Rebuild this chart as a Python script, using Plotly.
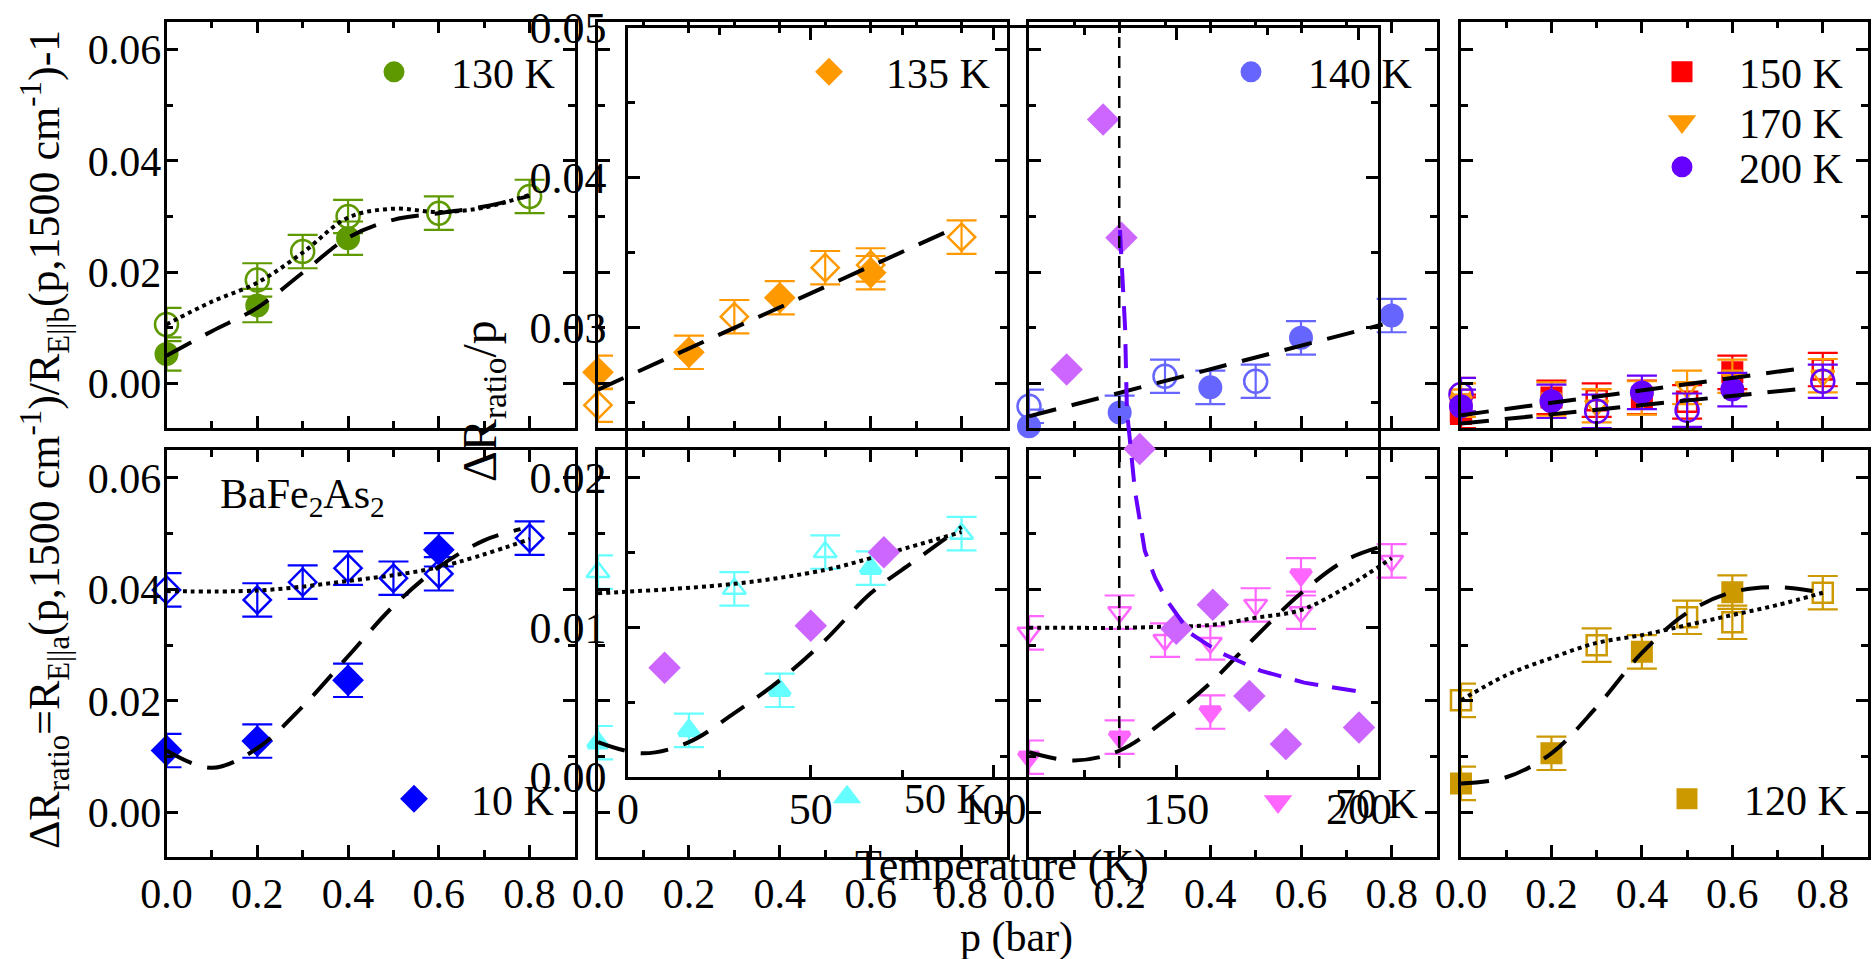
import plotly.graph_objects as go

W, H = 1875, 959
FONT = "Liberation Serif"

# ---------------- data ----------------
ERR = 0.003  # symmetric error bar of every pressure point

# 130 K (top, panel 1)
p130_f = [0.0, 0.2, 0.4]
v130_f = [0.0053, 0.0140, 0.0261]
p130_o = [0.0, 0.2, 0.3, 0.4, 0.6, 0.8]
v130_o = [0.0106, 0.0186, 0.0237, 0.0300, 0.0306, 0.0336]
p130_fit = [0.0, 0.1, 0.2, 0.3, 0.4, 0.5, 0.6, 0.7, 0.8]
v130_dash = [0.0050, 0.0094, 0.0136, 0.0199, 0.0262, 0.0294, 0.0306, 0.0318, 0.0337]
v130_dot = [0.0106, 0.0147, 0.0181, 0.0235, 0.0298, 0.0314, 0.0308, 0.0316, 0.0339]

# 135 K (top, panel 2)
p135_f = [0.0, 0.2, 0.4, 0.6]
v135_f = [0.0020, 0.0056, 0.0154, 0.0199]
p135_o = [0.0, 0.3, 0.5, 0.6, 0.8]
v135_o = [-0.0039, 0.0120, 0.0208, 0.0213, 0.0263]
p135_fit = [0.0, 0.79]
v135_dash = [-0.0011, 0.0281]

# 140 K (top, panel 3)
p140_f = [0.0, 0.2, 0.4, 0.6, 0.8]
v140_f = [-0.0077, -0.0052, -0.0007, 0.0082, 0.0122]
p140_o = [0.0, 0.3, 0.5]
v140_o = [-0.0041, 0.0013, 0.0004]
p140_fit = [0.0, 0.78]
v140_dash = [-0.0059, 0.0106]

# 150 K / 170 K / 200 K (top, panel 4)
p_hi_f = [0.0, 0.2, 0.4, 0.6]
p_hi_o = [0.0, 0.3, 0.5, 0.8]
v150_f = [-0.0055, -0.0025, -0.0025, 0.0020]
v150_o = [-0.0050, -0.0030, -0.0033, 0.0025]
v170_f = [-0.0030, -0.0028, -0.0026, 0.0013]
v170_o = [-0.0020, -0.0040, -0.0007, 0.0014]
v200_f = [-0.0041, -0.0032, -0.0016, -0.0011]
v200_o = [-0.0020, -0.0050, -0.0048, 0.0004]
p_hi_fitA = [0.0, 0.77]
v_hi_fitA = [-0.0057, 0.0029]
p_hi_fitB = [0.0, 0.76]
v_hi_fitB = [-0.0072, -0.0009]

# 10 K (bottom, panel 5)
p10_f = [0.0, 0.2, 0.4, 0.6]
v10_f = [0.0111, 0.0128, 0.0237, 0.0471]
p10_o = [0.0, 0.2, 0.3, 0.4, 0.5, 0.6, 0.8]
v10_o = [0.0399, 0.0381, 0.0413, 0.0438, 0.0420, 0.0428, 0.0492]
p10_fit = [0.0, 0.1, 0.2, 0.3, 0.4, 0.5, 0.6, 0.7, 0.78]
v10_dash = [0.0111, 0.0080, 0.0115, 0.0190, 0.0280, 0.0370, 0.0440, 0.0488, 0.0508]
p10_dotfit = [0.0, 0.2, 0.4, 0.6, 0.8]
v10_dot = [0.0397, 0.0398, 0.0415, 0.0440, 0.0490]

# 50 K (bottom, panel 6)
p50_f = [0.0, 0.2, 0.4, 0.6]
v50_f = [0.0125, 0.0147, 0.0219, 0.0438]
p50_o = [0.0, 0.3, 0.5, 0.8]
v50_o = [0.0431, 0.0401, 0.0467, 0.0500]
p50_fit = [0.0, 0.1, 0.2, 0.3, 0.4, 0.5, 0.6, 0.7, 0.8]
v50_dash = [0.0126, 0.0106, 0.0126, 0.0178, 0.0237, 0.0309, 0.0393, 0.0453, 0.0512]
p50_dotfit = [0.0, 0.3, 0.5, 0.6, 0.8]
v50_dot = [0.0393, 0.0410, 0.0435, 0.0456, 0.0503]

# 70 K (bottom, panel 7)
p70_f = [0.0, 0.2, 0.4, 0.6]
v70_f = [0.0099, 0.0135, 0.0180, 0.0426]
p70_o = [0.0, 0.2, 0.3, 0.4, 0.5, 0.6, 0.8]
v70_o = [0.0322, 0.0359, 0.0309, 0.0304, 0.0372, 0.0359, 0.0451]
p70_fit = [0.0, 0.1, 0.2, 0.3, 0.4, 0.5, 0.6, 0.7, 0.8]
v70_dash = [0.0108, 0.0093, 0.0111, 0.0165, 0.0232, 0.0315, 0.0393, 0.0453, 0.0482]
v70_dot = [0.0331, 0.0331, 0.0331, 0.0333, 0.0336, 0.0349, 0.0363, 0.0404, 0.0456]

# 120 K (bottom, panel 8)
p120_f = [0.0, 0.2, 0.4, 0.6]
v120_f = [0.0052, 0.0106, 0.0288, 0.0395]
p120_o = [0.0, 0.3, 0.5, 0.6, 0.8]
v120_o = [0.0201, 0.0300, 0.0350, 0.0341, 0.0394]
p120_fit = [0.0, 0.1, 0.2, 0.3, 0.4, 0.5, 0.6, 0.7, 0.8]
v120_dash = [0.0052, 0.0063, 0.0106, 0.0189, 0.0286, 0.0358, 0.0395, 0.0404, 0.0394]
v120_dot = [0.0201, 0.0246, 0.0277, 0.0304, 0.0318, 0.0336, 0.0354, 0.0372, 0.0394]

# inset: slope dR/p versus temperature
T_slope = [10, 50, 70, 120, 130, 135, 140, 150, 160, 170, 180, 200]
v_slope = [0.0073, 0.0101, 0.0150, 0.0272, 0.0439, 0.0360, 0.0219,
           0.0099, 0.0115, 0.0054, 0.0022, 0.0033]
T_curve = [134.6, 136.0, 136.5, 137.3, 138.7, 141.4, 144.2, 147.4, 153.8,
           162.0, 173.0, 185.0, 200.0]
v_curve = [0.0365, 0.0300, 0.0245, 0.0225, 0.0191, 0.0151, 0.0133, 0.0118,
           0.0096, 0.0083, 0.0071, 0.0063, 0.0057]
T_mark = [134.4, 134.4]
v_mark = [0.0006, 0.0494]

# colours
C130, C135, C140 = "#5f9900", "#ff9900", "#6666ff"
C150, C170, C200 = "#ff0000", "#ff9900", "#6600ff"
C10, C50, C70, C120 = "#0000ff", "#66ffff", "#ff66ff", "#cc9900"
C_SLOPE, C_CURVE = "#cc66ff", "#6600ff"

# ---------------- layout geometry (pixels) ----------------
X_DOM = [(166.5, 575.0), (598.0, 1007.0), (1029.0, 1437.0), (1461.0, 1868.0)]
Y_ROW = [(21.7, 428.0), (450.0, 857.0)]
INSET_X = (628.0, 1378.0)
INSET_Y = (28.0, 777.0)

def xd(a, b):
    return [a / W, b / W]

def yd(top, bot):
    return [1 - bot / H, 1 - top / H]

fig = go.Figure()

FILLED_SIZE = {"circle": 19, "diamond": 19, "square": 17, "triangle-up": 17, "triangle-down": 17}
OPEN_SIZE = {"circle": 23, "diamond": 21, "square": 20, "triangle-up": 20, "triangle-down": 20}

def ax(i):
    return ("x" if i == 1 else f"x{i}"), ("y" if i == 1 else f"y{i}")

def add_points(panel, x, y, symbol, color, filled, name=None, legend=None):
    xa, ya = ax(panel)
    if filled:
        marker = dict(symbol=symbol, size=FILLED_SIZE[symbol], color=color,
                      line=dict(color=color, width=5))
    else:
        marker = dict(symbol=symbol + "-open", size=OPEN_SIZE[symbol], color=color,
                      line=dict(color=color, width=2.5))
    fig.add_trace(go.Scatter(
        x=x, y=y, mode="markers", marker=marker, xaxis=xa, yaxis=ya,
        error_y=dict(type="constant", value=ERR, color=color, thickness=2.2, width=15),
        cliponaxis=False, name=name or "", showlegend=bool(name),
        legend=legend if legend else "legend"))

def add_fit(panel, x, y, style, color="black", width=4, shape="spline"):
    xa, ya = ax(panel)
    dash = {"dash": "28px,16px", "dot": "dot"}.get(style, style)
    fig.add_trace(go.Scatter(
        x=x, y=y, mode="lines", line=dict(color=color, width=width, dash=dash, shape=shape),
        xaxis=xa, yaxis=ya, showlegend=False, hoverinfo="skip"))

# panel 1: 130 K
add_points(1, p130_o, v130_o, "circle", C130, False)
add_points(1, p130_f, v130_f, "circle", C130, True, "130 K", "legend")
add_fit(1, p130_fit, v130_dash, "dash")
add_fit(1, p130_fit, v130_dot, "dot")
# panel 2: 135 K
add_points(2, p135_o, v135_o, "diamond", C135, False)
add_points(2, p135_f, v135_f, "diamond", C135, True, "135 K", "legend2")
add_fit(2, p135_fit, v135_dash, "dash", shape="linear")
# panel 3: 140 K
add_points(3, p140_o, v140_o, "circle", C140, False)
add_points(3, p140_f, v140_f, "circle", C140, True, "140 K", "legend3")
add_fit(3, p140_fit, v140_dash, "dash", shape="linear")
# panel 4: 150/170/200 K
add_points(4, p_hi_o, v150_o, "square", C150, False)
add_points(4, p_hi_o, v170_o, "triangle-down", C170, False)
add_points(4, p_hi_o, v200_o, "circle", C200, False)
add_points(4, p_hi_f, v150_f, "square", C150, True, "150 K", "legend4")
add_points(4, p_hi_f, v170_f, "triangle-down", C170, True, "170 K", "legend5")
add_points(4, p_hi_f, v200_f, "circle", C200, True, "200 K", "legend6")
add_fit(4, p_hi_fitA, v_hi_fitA, "dash", shape="linear")
add_fit(4, p_hi_fitB, v_hi_fitB, "dash", shape="linear")
# panel 5: 10 K
add_points(5, p10_o, v10_o, "diamond", C10, False)
add_points(5, p10_f, v10_f, "diamond", C10, True, "10 K", "legend7")
add_fit(5, p10_fit, v10_dash, "dash")
add_fit(5, p10_dotfit, v10_dot, "dot")
# panel 6: 50 K
add_points(6, p50_o, v50_o, "triangle-up", C50, False)
add_points(6, p50_f, v50_f, "triangle-up", C50, True, "50 K", "legend8")
add_fit(6, p50_fit, v50_dash, "dash")
add_fit(6, p50_dotfit, v50_dot, "dot")
# panel 7: 70 K
add_points(7, p70_o, v70_o, "triangle-down", C70, False)
add_points(7, p70_f, v70_f, "triangle-down", C70, True, "70 K", "legend9")
add_fit(7, p70_fit, v70_dash, "dash")
add_fit(7, p70_fit, v70_dot, "dot")
# panel 8: 120 K
add_points(8, p120_o, v120_o, "square", C120, False)
add_points(8, p120_f, v120_f, "square", C120, True, "120 K", "legend10")
add_fit(8, p120_fit, v120_dash, "dash")
add_fit(8, p120_fit, v120_dot, "dot")

# inset
fig.add_trace(go.Scatter(x=T_slope, y=v_slope, mode="markers", xaxis="x9", yaxis="y9",
                         marker=dict(symbol="diamond", size=25, color=C_SLOPE),
                         cliponaxis=False, showlegend=False))
fig.add_trace(go.Scatter(x=T_curve, y=v_curve, mode="lines", xaxis="x9", yaxis="y9",
                         line=dict(color=C_CURVE, width=4, dash="24px,14px"),
                         showlegend=False))
fig.add_trace(go.Scatter(x=T_mark, y=v_mark, mode="lines", xaxis="x9", yaxis="y9",
                         line=dict(color="black", width=2.5, dash="12px,8px"),
                         showlegend=False))

# ---------------- axes ----------------
tickfont = dict(family=FONT, size=42, color="black")
common = dict(showline=True, linecolor="black", linewidth=2.5, mirror="ticks",
              ticks="inside", ticklen=12, tickwidth=2.5, tickcolor="black",
              showgrid=False, zeroline=False, tickfont=tickfont, automargin=False)
layout_axes = {}
for i in range(1, 9):
    row = 0 if i <= 4 else 1
    col = (i - 1) % 4
    xname = "xaxis" if i == 1 else f"xaxis{i}"
    yname = "yaxis" if i == 1 else f"yaxis{i}"
    xa, ya = ax(i)
    layout_axes[xname] = dict(common, domain=xd(*X_DOM[col]), anchor=ya, range=[0, 0.9],
                              tick0=0, dtick=0.2, tickformat=".1f",
                              showticklabels=(row == 1), ticklabelstandoff=-2,
                              minor=dict(dtick=0.1, ticks="inside", ticklen=7,
                                         tickwidth=2.5, tickcolor="black"))
    layout_axes[yname] = dict(common, domain=yd(*Y_ROW[row]), anchor=xa,
                              range=[-0.008, 0.065], tick0=0, dtick=0.02,
                              tickformat=".2f", showticklabels=(col == 0),
                              ticklabelstandoff=-6,
                              minor=dict(dtick=0.01, ticks="inside", ticklen=7,
                                         tickwidth=2.5, tickcolor="black"))

insetfont = dict(family=FONT, size=44, color="black")
layout_axes["xaxis9"] = dict(common, domain=xd(*INSET_X), anchor="y9", range=[0, 205.2],
                             tick0=0, dtick=50, tickfont=insetfont, ticklabelstandoff=-9,
                             minor=dict(dtick=25, ticks="inside", ticklen=7,
                                        tickwidth=2.5, tickcolor="black"))
layout_axes["yaxis9"] = dict(common, domain=yd(*INSET_Y), anchor="x9", range=[0, 0.05],
                             tick0=0, dtick=0.01, tickformat=".2f", tickfont=insetfont,
                             ticklabelstandoff=10,
                             minor=dict(dtick=0.005, ticks="inside", ticklen=7,
                                        tickwidth=2.5, tickcolor="black"))

# ---------------- legends (one per temperature) ----------------
LEG_POS = {
    "legend": (394, 72), "legend2": (829, 72), "legend3": (1251, 72),
    "legend4": (1682, 72), "legend5": (1682, 122), "legend6": (1682, 167),
    "legend7": (414, 799), "legend8": (847, 797), "legend9": (1278, 802),
    "legend10": (1687, 799),
}
legends = {}
for key, (cx, cy) in LEG_POS.items():
    legends[key] = dict(x=(cx - 57) / W, y=1 - cy / H, xanchor="left", yanchor="middle",
                        bgcolor="rgba(0,0,0,0)", borderwidth=0, itemwidth=104,
                        font=dict(family=FONT, size=42, color="black"),
                        itemclick=False, itemdoubleclick=False)

def ann(text, px, py, size=42, angle=0):
    return dict(text=text, x=px / W, y=1 - py / H, xref="paper", yref="paper",
                xanchor="center", yanchor="middle", showarrow=False, textangle=angle,
                font=dict(family=FONT, size=size, color="black"))

annotations = [
    ann("ΔR<sub>ratio</sub>=R<sub>E||a</sub>(p,1500 cm<sup>-1</sup>)/R<sub>E||b</sub>(p,1500 cm<sup>-1</sup>)-1",
        45, 440, 44, -90),
    ann("p (bar)", 1016, 937, 42),
    ann("Temperature (K)", 1002, 865, 44),
    ann("ΔR<sub>ratio</sub>/p", 483, 401, 48, -90),
    ann("BaFe<sub>2</sub>As<sub>2</sub>", 302, 497, 42),
]

fig.update_layout(
    width=W, height=H, margin=dict(l=0, r=0, t=0, b=0, autoexpand=False),
    paper_bgcolor="white", plot_bgcolor="rgba(0,0,0,0)",
    font=dict(family=FONT, size=42, color="black"),
    annotations=annotations, **layout_axes, **legends,
)

fig.write_html("out.html")
